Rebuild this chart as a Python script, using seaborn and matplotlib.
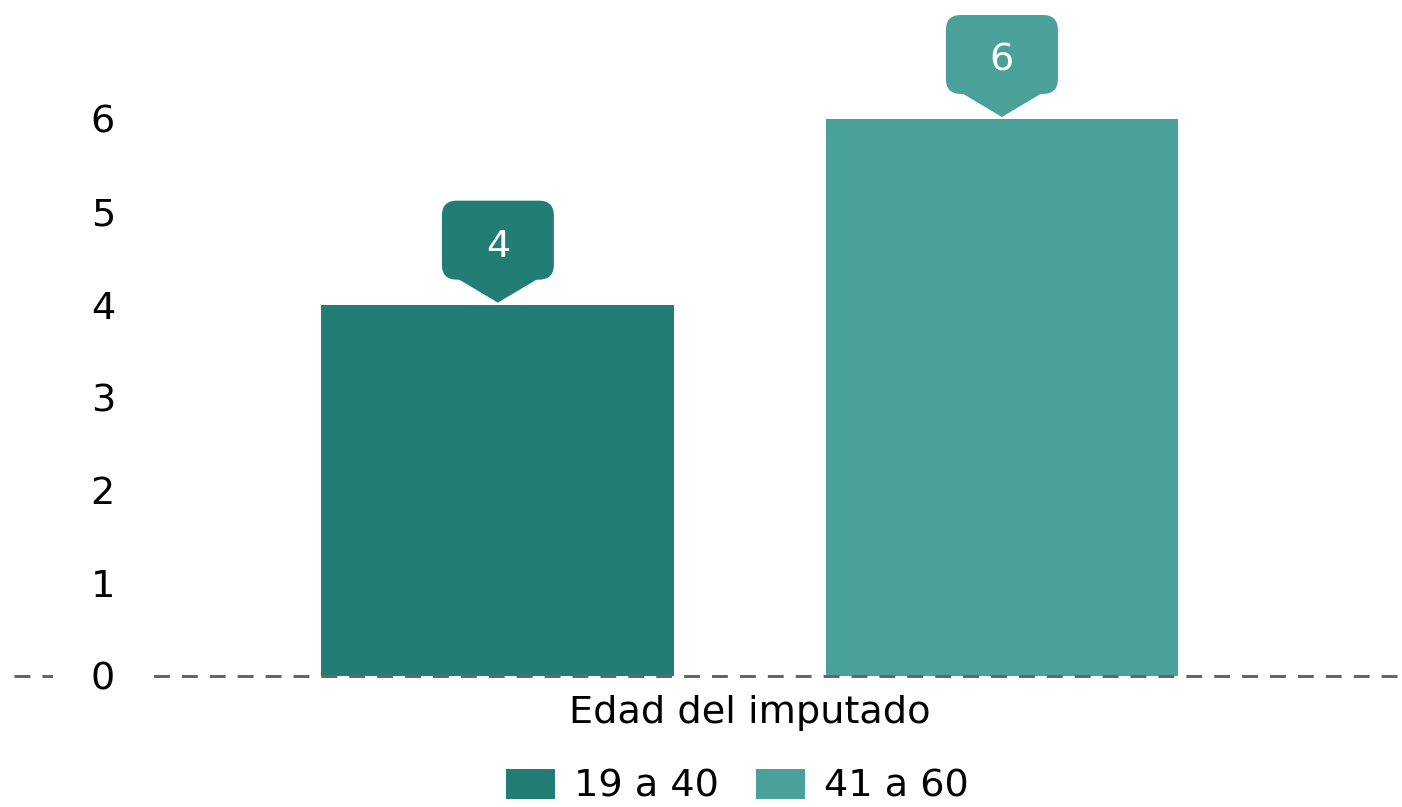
import numpy as np
import pandas as pd
import matplotlib
matplotlib.use('Agg')
import matplotlib.pyplot as plt
import matplotlib.transforms as mtransforms
from matplotlib.patches import FancyBboxPatch, Polygon
import seaborn as sb

# data
group = ['Edad del imputado']
edades = ['19 a 40', '41 a 60']
valores = [4, 6]
colores = ['#227D74', '#4AA199']
yticks = [0, 1, 2, 3, 4, 5, 6]

df = pd.DataFrame({'grupo': group * len(edades), 'edad': edades, 'n': valores})

sb.set_style('white')
plt.rcParams['font.family'] = ['DejaVu Sans']
plt.rcParams['text.color'] = 'black'
FS = 27.5

fig = plt.figure(figsize=(14.02, 8.07), dpi=100)
ax = fig.add_axes([14 / 1402, 131 / 807, 1 - 14 / 1402, 666 / 807])

sb.barplot(data=df, x='grupo', y='n', hue='edad', palette=colores,
           width=0.8, gap=0.3, saturation=1, ax=ax, linewidth=0)

ax.set_xlim(-0.584, 0.5175)
ax.set_ylim(0, 7.174)
ax.set_yticks(yticks)
ax.set_xlabel('')
ax.set_ylabel('')
for s in ax.spines.values():
    s.set_visible(False)
ax.tick_params(axis='y', length=0, pad=-72.7, labelsize=FS, labelcolor='black')
ax.tick_params(axis='x', length=0, pad=14, labelsize=FS, labelcolor='black')
for lab in ax.get_yticklabels():
    lab.set_bbox(dict(boxstyle='square,pad=1.0', fc='white', ec='none'))

# dashed zero line
ax.axhline(0, color='#666666', lw=2.16, dashes=(5.3, 4), zorder=2, clip_on=False)
ax.yaxis.set_zorder(2.5)

# callout labels above bars
for cont, col in zip(ax.containers, colores):
    for bar in cont:
        xc = bar.get_x() + bar.get_width() / 2
        top = bar.get_height()
        tr = fig.dpi_scale_trans + mtransforms.ScaledTranslation(xc, top, ax.transData)
        box = FancyBboxPatch((-0.56, 0.25), 1.12, 0.79,
                             boxstyle='round,pad=0,rounding_size=0.15',
                             fc=col, ec='none', transform=tr, clip_on=False, zorder=4)
        tri = Polygon([(-0.42, 0.27), (0.42, 0.27), (0, 0.02)], closed=True,
                      fc=col, ec='none', transform=tr, clip_on=False, zorder=4)
        ax.add_patch(box)
        ax.add_patch(tri)
        ax.annotate(f'{int(top)}', xy=(xc, top), xytext=(0, 34.6),
                    textcoords='offset points', ha='center', va='baseline',
                    color='white', fontsize=FS, zorder=5)

# legend at the bottom
handles, labels = ax.get_legend_handles_labels()
ax.legend_.remove()
leg = fig.legend(handles, labels, loc='lower center', bbox_to_anchor=(0.526, -0.04),
                 ncol=2, frameon=False, fontsize=FS, handlelength=1.3,
                 handleheight=0.82, handletextpad=0.5, columnspacing=0.95)
for t in leg.get_texts():
    t.set_color('black')

fig.savefig('out.png', dpi=100, facecolor='white')
